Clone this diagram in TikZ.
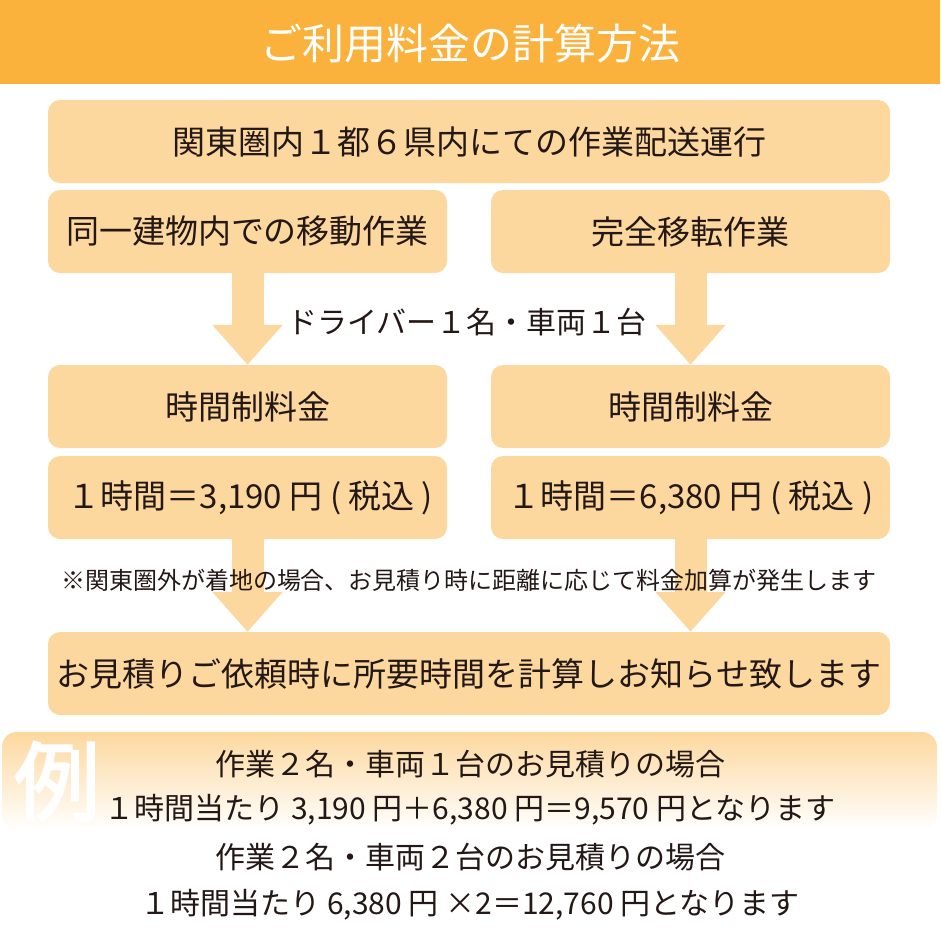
\documentclass[tikz,border=0pt]{standalone}
\usepackage{fontspec}
\setmainfont{Noto Sans CJK JP}
\newfontfamily\jpbold[FakeBold=2.5]{Noto Sans CJK JP}
\usepackage{tikz}
\usetikzlibrary{arrows.meta,positioning}
\definecolor{headorange}{RGB}{250,178,60}
\definecolor{peach}{RGB}{253,216,158}
\definecolor{ink}{RGB}{35,24,21}

\begin{document}
\begin{tikzpicture}
[x=1pt,y=-1pt,inner sep=0pt]
\tikzstyle{plain}=[fill=peach,rounded corners=12pt,text=ink,minimum height=83pt,font=\fontsize{33}{38}\selectfont]
\tikzstyle{half}=[plain,minimum width=399pt]
\tikzstyle{full}=[plain,minimum width=842pt]
\tikzstyle{label}=[text=ink,font=\fontsize{30}{34}\selectfont]
\tikzstyle{down}=[draw=peach,line width=32pt,-{Triangle[width=68pt,length=40pt]}]

\useasboundingbox (0,0) rectangle (940,940);

% header
\fill [headorange] (0,0) rectangle (940,84);
\draw node [text=white,font=\fontsize{42}{46}\selectfont] (title) at (470,44) {ご利用料金の計算方法};

\draw node [full] (area) at (469,141.5) {関東圏内１都６県内にての作業配送運行};
\draw node [half] (inside) at (247.5,231.5) {同一建物内での移動作業};
\draw node [half] (move) at (690.5,231.5) {完全移転作業};
\draw node [half] (rateL) at (247.5,406.5) {時間制料金};
\draw node [half] (rateR) at (690.5,406.5) {時間制料金};
\draw node [half] (priceL) at (247.5,497.5) {\hspace{6pt}１時間＝3,190 円 ( 税込 )};
\draw node [half] (priceR) at (690.5,497.5) {１時間＝6,380 円 ( 税込 )};
\draw node [full] (quote) at (469,673.5) {お見積りご依頼時に所要時間を計算しお知らせ致します};

\draw [down] (inside) -- (rateL);
\draw [down] (move) -- (rateR);
\draw [down] (priceL) -- (priceL.south |- quote.north);
\draw [down] (priceR) -- (priceR.south |- quote.north);

\draw node [label] (driver) at (467,322) {ドライバー１名・車両１台};
\draw node [text=ink,font=\fontsize{24}{28}\selectfont] (note) at (469,580) {※関東圏外が着地の場合、お見積り時に距離に応じて料金加算が発生します};

% example
\shade [top color=peach,bottom color=white,rounded corners=15pt] (2,830) -- (2,732) -- (937,732) -- (937,830) -- cycle;
\draw node [text=white,font=\jpbold\fontsize{86}{90}\selectfont] (rei) at (57,781) {例};
\draw node [label] (ex1) at (470,764) {作業２名・車両１台のお見積りの場合};
\draw node [label] (ex2) at (470,810) {１時間当たり 3,190 円＋6,380 円＝9,570 円となります};
\draw node [label] (ex3) at (470,857) {作業２名・車両２台のお見積りの場合};
\draw node [label] (ex4) at (470,905) {１時間当たり 6,380 円 ×2＝12,760 円となります};

\end{tikzpicture}
\end{document}
